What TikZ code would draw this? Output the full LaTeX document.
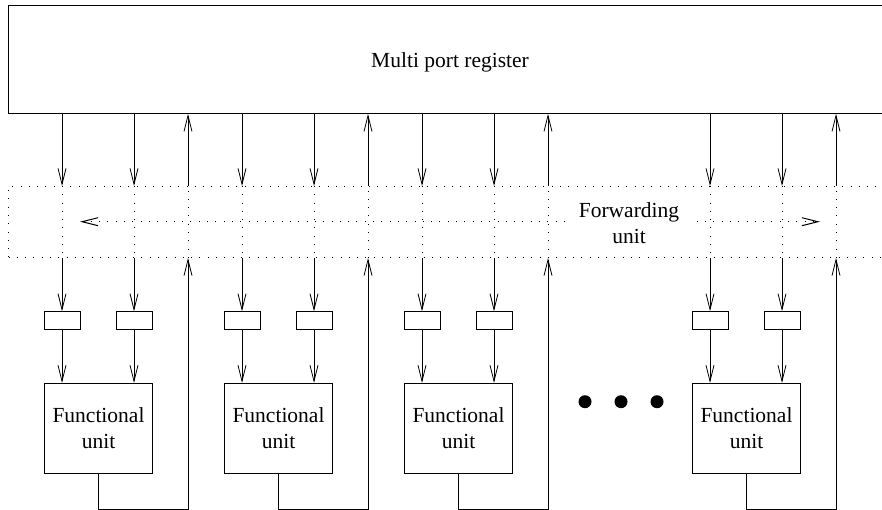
\documentclass[tikz,border=0pt]{standalone}
\usepackage{fontspec}
\setmainfont{Liberation Serif}
\usetikzlibrary{arrows.meta}

\begin{document}
\begin{tikzpicture}[x=1pt, y=-1pt,
  >={Straight Barb[length=16pt,width=8pt]},
  wire/.style={line width=0.8pt},
  dotline/.style={line width=1pt, dash pattern=on 1pt off 7.3pt},
  lbl/.style={font=\fontsize{21.5}{25.5}\selectfont, align=center},
  latch/.style={draw, line width=0.8pt, minimum width=36pt, minimum height=17.6pt, inner sep=0pt},
  fubox/.style={draw, line width=0.8pt, lbl, minimum width=108.4pt, minimum height=90pt, inner sep=0pt},
  bigbox/.style={line width=0.8pt, minimum width=884pt, inner sep=0pt, anchor=north west}
]
\clip (0,0) rectangle (882,510);
\useasboundingbox (0,0) rectangle (882,510);

% register file and forwarding network
\node[bigbox, draw, minimum height=108pt] (reg) at (8,5) {};
\node[lbl, anchor=base] (regname) at (450,68) {Multi port register};
\node[bigbox, draw, dotline, minimum height=71pt] (fw) at (8,186) {};

% bypass bus across the forwarding unit
\coordinate (busL) at (80,221.7);
\coordinate (busR) at (820,221.7);
\draw[dotline, <->] (busL) -- (busR);
\node[lbl, fill=white, inner xsep=14pt, inner ysep=1pt] (fwname) at (629,223) {Forwarding\\unit};

% one slice per functional unit
\foreach \g/\n in {0/1,180/2,360/3,648/4}{
  \node[latch] (la\n) at (\g+62,320.5) {};
  \node[latch] (lb\n) at (\g+134,320.5) {};
  \node[fubox] (fu\n) at (\g+98.5,428.3) {Functional\\unit};
  \coordinate (ret\n) at (\g+188,509.3);
  % operand paths
  \foreach \p in {la,lb}{
    \draw[wire, ->] (reg.south -| \p\n) -- (fw.north -| \p\n);
    \draw[dotline] (fw.north -| \p\n) -- (fw.south -| \p\n);
    \draw[wire, ->] (fw.south -| \p\n) -- (\p\n.north);
    \draw[wire, ->] (\p\n.south) -- (fu\n.north -| \p\n);
  }
  % result write-back path
  \draw[wire, ->] (fu\n.south) |- (ret\n) -- (fw.south -| ret\n);
  \draw[dotline] (fw.south -| ret\n) -- (fw.north -| ret\n);
  \draw[wire, ->] (fw.north -| ret\n) -- (reg.south -| ret\n);
}

% ellipsis between the slices
\foreach \x [count=\i] in {585,621,657}
  \fill (\x,401.7) circle[radius=6.5pt] coordinate (dot\i);
\end{tikzpicture}
\end{document}
